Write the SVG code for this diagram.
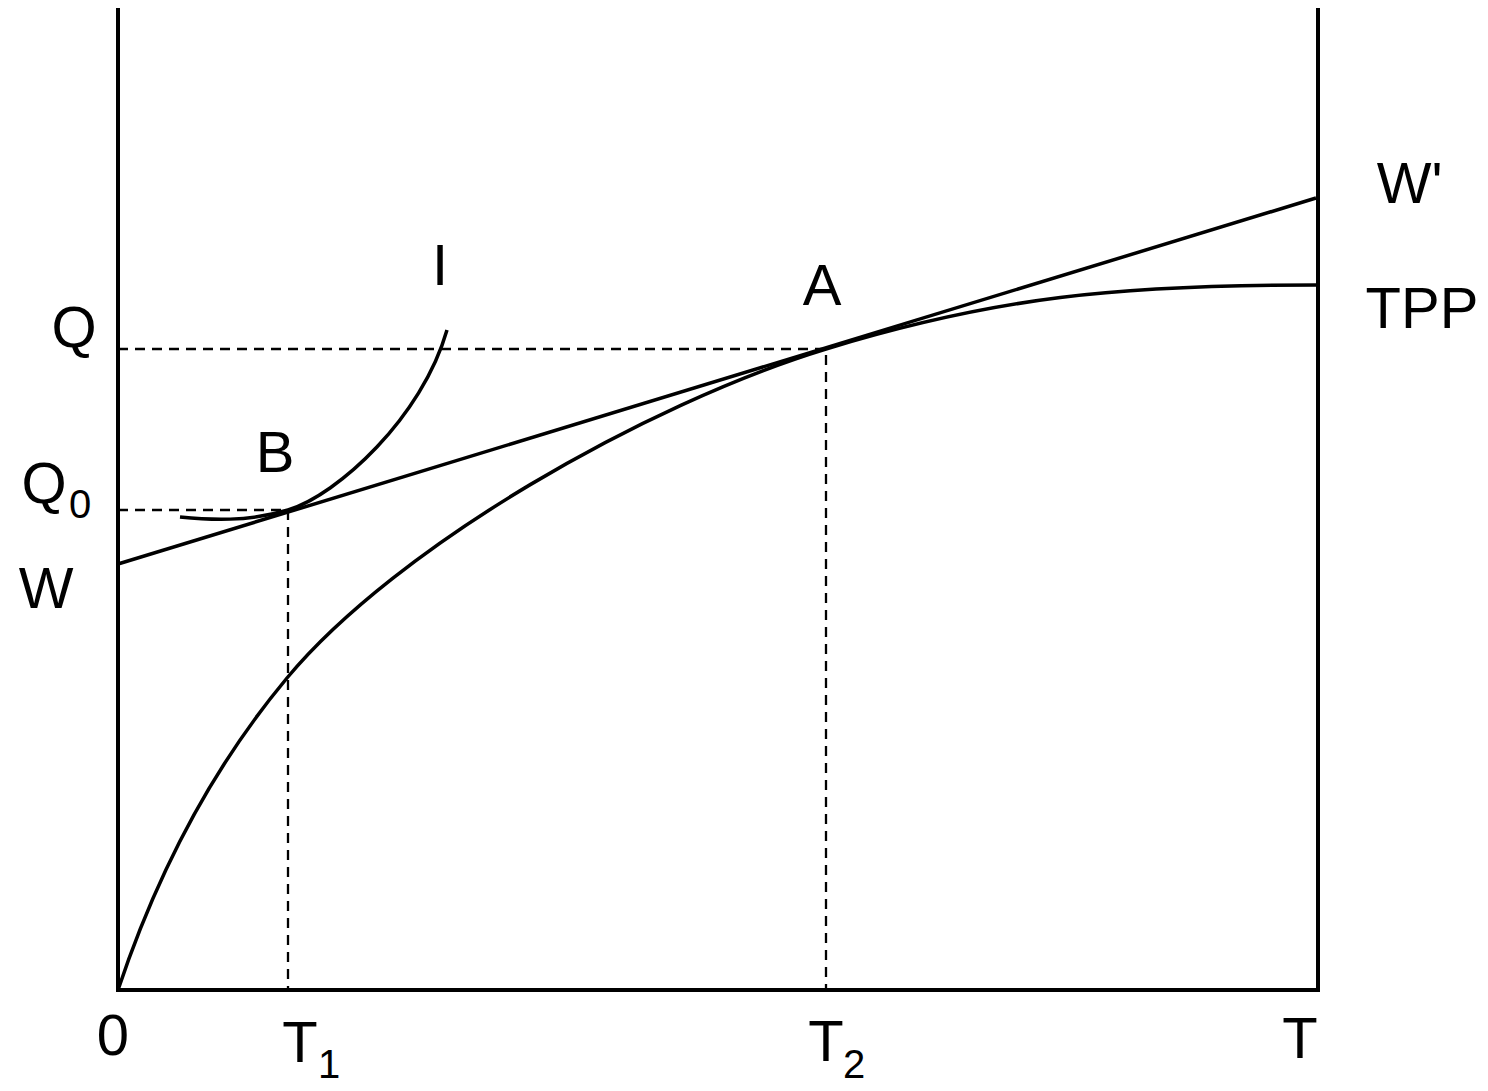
<svg xmlns="http://www.w3.org/2000/svg" width="1488" height="1091" viewBox="0 0 1488 1091">
<style>
.ax{fill:none;stroke:#000;stroke-width:4}
.cv{fill:none;stroke:#000;stroke-width:3.5}
.dash{fill:none;stroke:#000;stroke-width:2.3;stroke-dasharray:10 7}
.lb{font-family:"Liberation Sans",Arial,sans-serif;font-size:58px;fill:#000;text-anchor:middle}
.sub{font-size:40px}
</style>
<rect width="1488" height="1091" fill="#fff"/>
<g id="axes">
<path class="ax" d="M118,8 L118,990 L1318,990 L1318,8"/>
</g>
<g id="connectors">
<path class="dash" d="M118,349 H826 V990"/>
<path class="dash" d="M118,510 H288 V990"/>
</g>
<g id="wage-line">
<path class="cv" d="M118,564 L1316,198"/>
</g>
<g id="tpp-curve">
<path class="cv" d="M118,990 C168,840 232,744 287,678 C397,546 646,404 826,349 C996,297 1117,285 1317,285"/>
</g>
<g id="indifference-curve">
<path class="cv" d="M180,517 C210,520 248,522 288,510 C338,494.7 422,417.5 447,330"/>
</g>
<g id="labels">
<text class="lb" x="74" y="347">Q</text>
<text class="lb" x="44" y="503">Q</text><text class="lb sub" x="80" y="518">0</text>
<text class="lb" x="46" y="608">W</text>
<text class="lb" x="275" y="472">B</text>
<text class="lb" x="440" y="285">I</text>
<text class="lb" x="822" y="305">A</text>
<text class="lb" x="1404" y="203">W</text><text class="lb" x="1437" y="203">'</text>
<text class="lb" x="1422" y="328">TPP</text>
<text class="lb" x="113" y="1055">0</text>
<text class="lb" x="300" y="1062">T</text><text class="lb sub" x="329" y="1078">1</text>
<text class="lb" x="826" y="1061">T</text><text class="lb sub" x="854" y="1078">2</text>
<text class="lb" x="1300" y="1058">T</text>
</g>
</svg>
